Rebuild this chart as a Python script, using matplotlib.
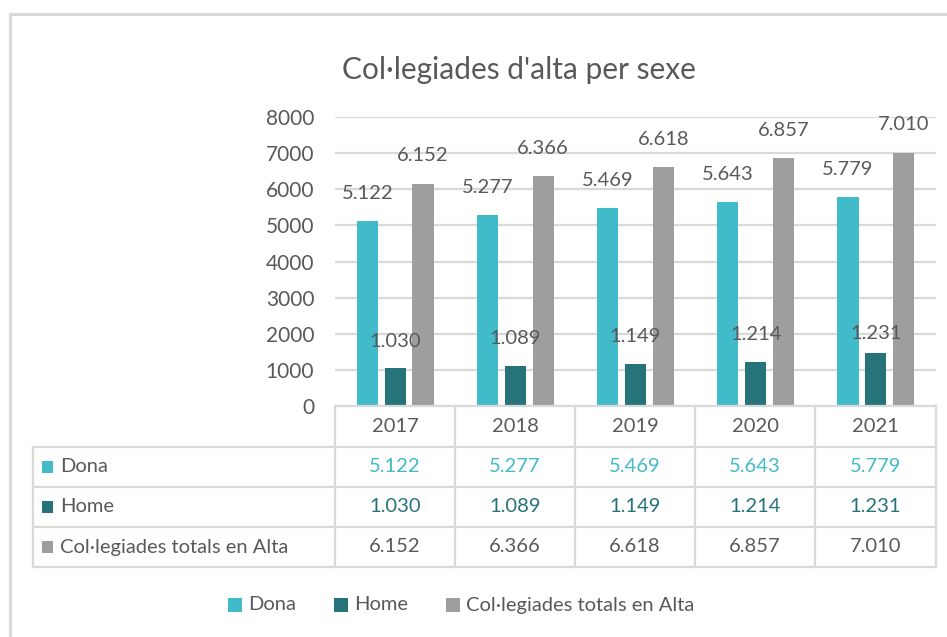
import matplotlib
matplotlib.use("Agg")
import matplotlib.pyplot as plt
from matplotlib.patches import Rectangle
from matplotlib.lines import Line2D
import numpy as np

plt.rcParams['font.family'] = ['Lato', 'DejaVu Sans']

years = ["2017", "2018", "2019", "2020", "2021"]
dona = [5122, 5277, 5469, 5643, 5779]
home = [1030, 1089, 1149, 1214, 1231]
home_bar_heights = [1050, 1110, 1170, 1220, 1470]  # drawn bar heights as seen in picture
total = [6152, 6366, 6618, 6857, 7010]
series_names = ["Dona", "Home", "Col·legiades totals en Alta"]
yticks = [0, 1000, 2000, 3000, 4000, 5000, 6000, 7000, 8000]
title = "Col·legiades d'alta per sexe"

c_dona = "#41BACA"
c_home = "#267479"
c_total = "#9E9E9E"
c_text = "#595959"
c_grid = "#D9D9D9"

W, H = 947, 637
fig = plt.figure(figsize=(W / 100, H / 100), dpi=100)

def fx(px):
    return px / W

def fy(py):
    return 1 - py / H

ax_l, ax_r, ax_t, ax_b = 335, 936, 117, 406
ax = fig.add_axes([fx(ax_l), fy(ax_b), fx(ax_r) - fx(ax_l), fy(ax_t) - fy(ax_b)])
ax.set_xlim(-0.5, len(years) - 0.5)
ax.set_ylim(0, 8000)
ax.set_yticks(yticks)
ax.set_yticklabels([str(v) for v in yticks], fontsize=15, color=c_text)
ax.tick_params(axis='y', length=0, pad=15)
ax.set_xticks([])
for s in ax.spines.values():
    s.set_visible(False)
ax.grid(axis='y', color=c_grid, linewidth=1.6)
ax.set_axisbelow(True)

x = np.arange(len(years))
bw = 0.175
off = 0.232
ax.bar(x - off, dona, bw, color=c_dona, zorder=3)
ax.bar(x, home_bar_heights, bw, color=c_home, zorder=3)
ax.bar(x + off, total, bw, color=c_total, zorder=3)

def lab(xs, vals, dy):
    for xi, v in zip(xs, vals):
        ax.annotate(f"{v/1000:.3f}", (xi, v), xytext=(0, dy), textcoords='offset points',
                    ha='center', va='center', fontsize=14.5, color=c_text, zorder=4)

lab(x - off, dona, 20)
lab(x, home, 20)
lab(x + off, total, 20)

# Title
fig.text(fx(519), fy(70), title, ha='center', va='center', fontsize=21.5, color=c_text)

# Outer frame
fig.add_artist(Line2D([fx(10), fx(10)], [fy(14), fy(640)], color=c_grid, lw=2.2))
fig.add_artist(Line2D([fx(10), fx(950)], [fy(14), fy(14)], color=c_grid, lw=2.2))

# Table
col_edges = [335, 455, 575, 695, 815, 936]
row_edges = [406, 447, 487, 527, 567]
tl = 33
lw = 1.6
fig.add_artist(Line2D([fx(335), fx(936)], [fy(406), fy(406)], color=c_grid, lw=lw))
for ry in row_edges[1:]:
    fig.add_artist(Line2D([fx(tl), fx(936)], [fy(ry), fy(ry)], color=c_grid, lw=lw))
for cx in col_edges:
    fig.add_artist(Line2D([fx(cx), fx(cx)], [fy(406), fy(567)], color=c_grid, lw=lw))
fig.add_artist(Line2D([fx(tl), fx(tl)], [fy(447), fy(567)], color=c_grid, lw=lw))

for i, yr in enumerate(years):
    cxm = (col_edges[i] + col_edges[i + 1]) / 2
    fig.text(fx(cxm), fy((406 + 447) / 2), yr, ha='center', va='center', fontsize=14.5, color=c_text)

rows = [(series_names[0], dona, c_dona, c_dona),
        (series_names[1], home, c_home, c_home),
        (series_names[2], total, c_total, c_text)]
for r, (name, vals, mc, tc) in enumerate(rows):
    y0, y1 = row_edges[r + 1], row_edges[r + 2]
    ym = (y0 + y1) / 2
    fig.add_artist(Rectangle((fx(42), fy(ym + 6)), fx(11), fy(ym - 6) - fy(ym + 6), color=mc, lw=0))
    fig.text(fx(60), fy(ym), name, ha='left', va='center', fontsize=14.5, color=c_text)
    for i, v in enumerate(vals):
        cxm = (col_edges[i] + col_edges[i + 1]) / 2
        fig.text(fx(cxm), fy(ym), f"{v/1000:.3f}", ha='center', va='center', fontsize=14.5, color=tc)

# Legend
leg_y = 605
leg_items = [(228, c_dona, series_names[0]), (334, c_home, series_names[1]), (446, c_total, series_names[2])]
for lx, c, name in leg_items:
    fig.add_artist(Rectangle((fx(lx), fy(leg_y + 7)), fx(14), fy(leg_y - 7) - fy(leg_y + 7), color=c, lw=0))
    fig.text(fx(lx + 20), fy(leg_y), name, ha='left', va='center', fontsize=14.5, color=c_text)

fig.savefig("out.png", dpi=100, facecolor='white')
